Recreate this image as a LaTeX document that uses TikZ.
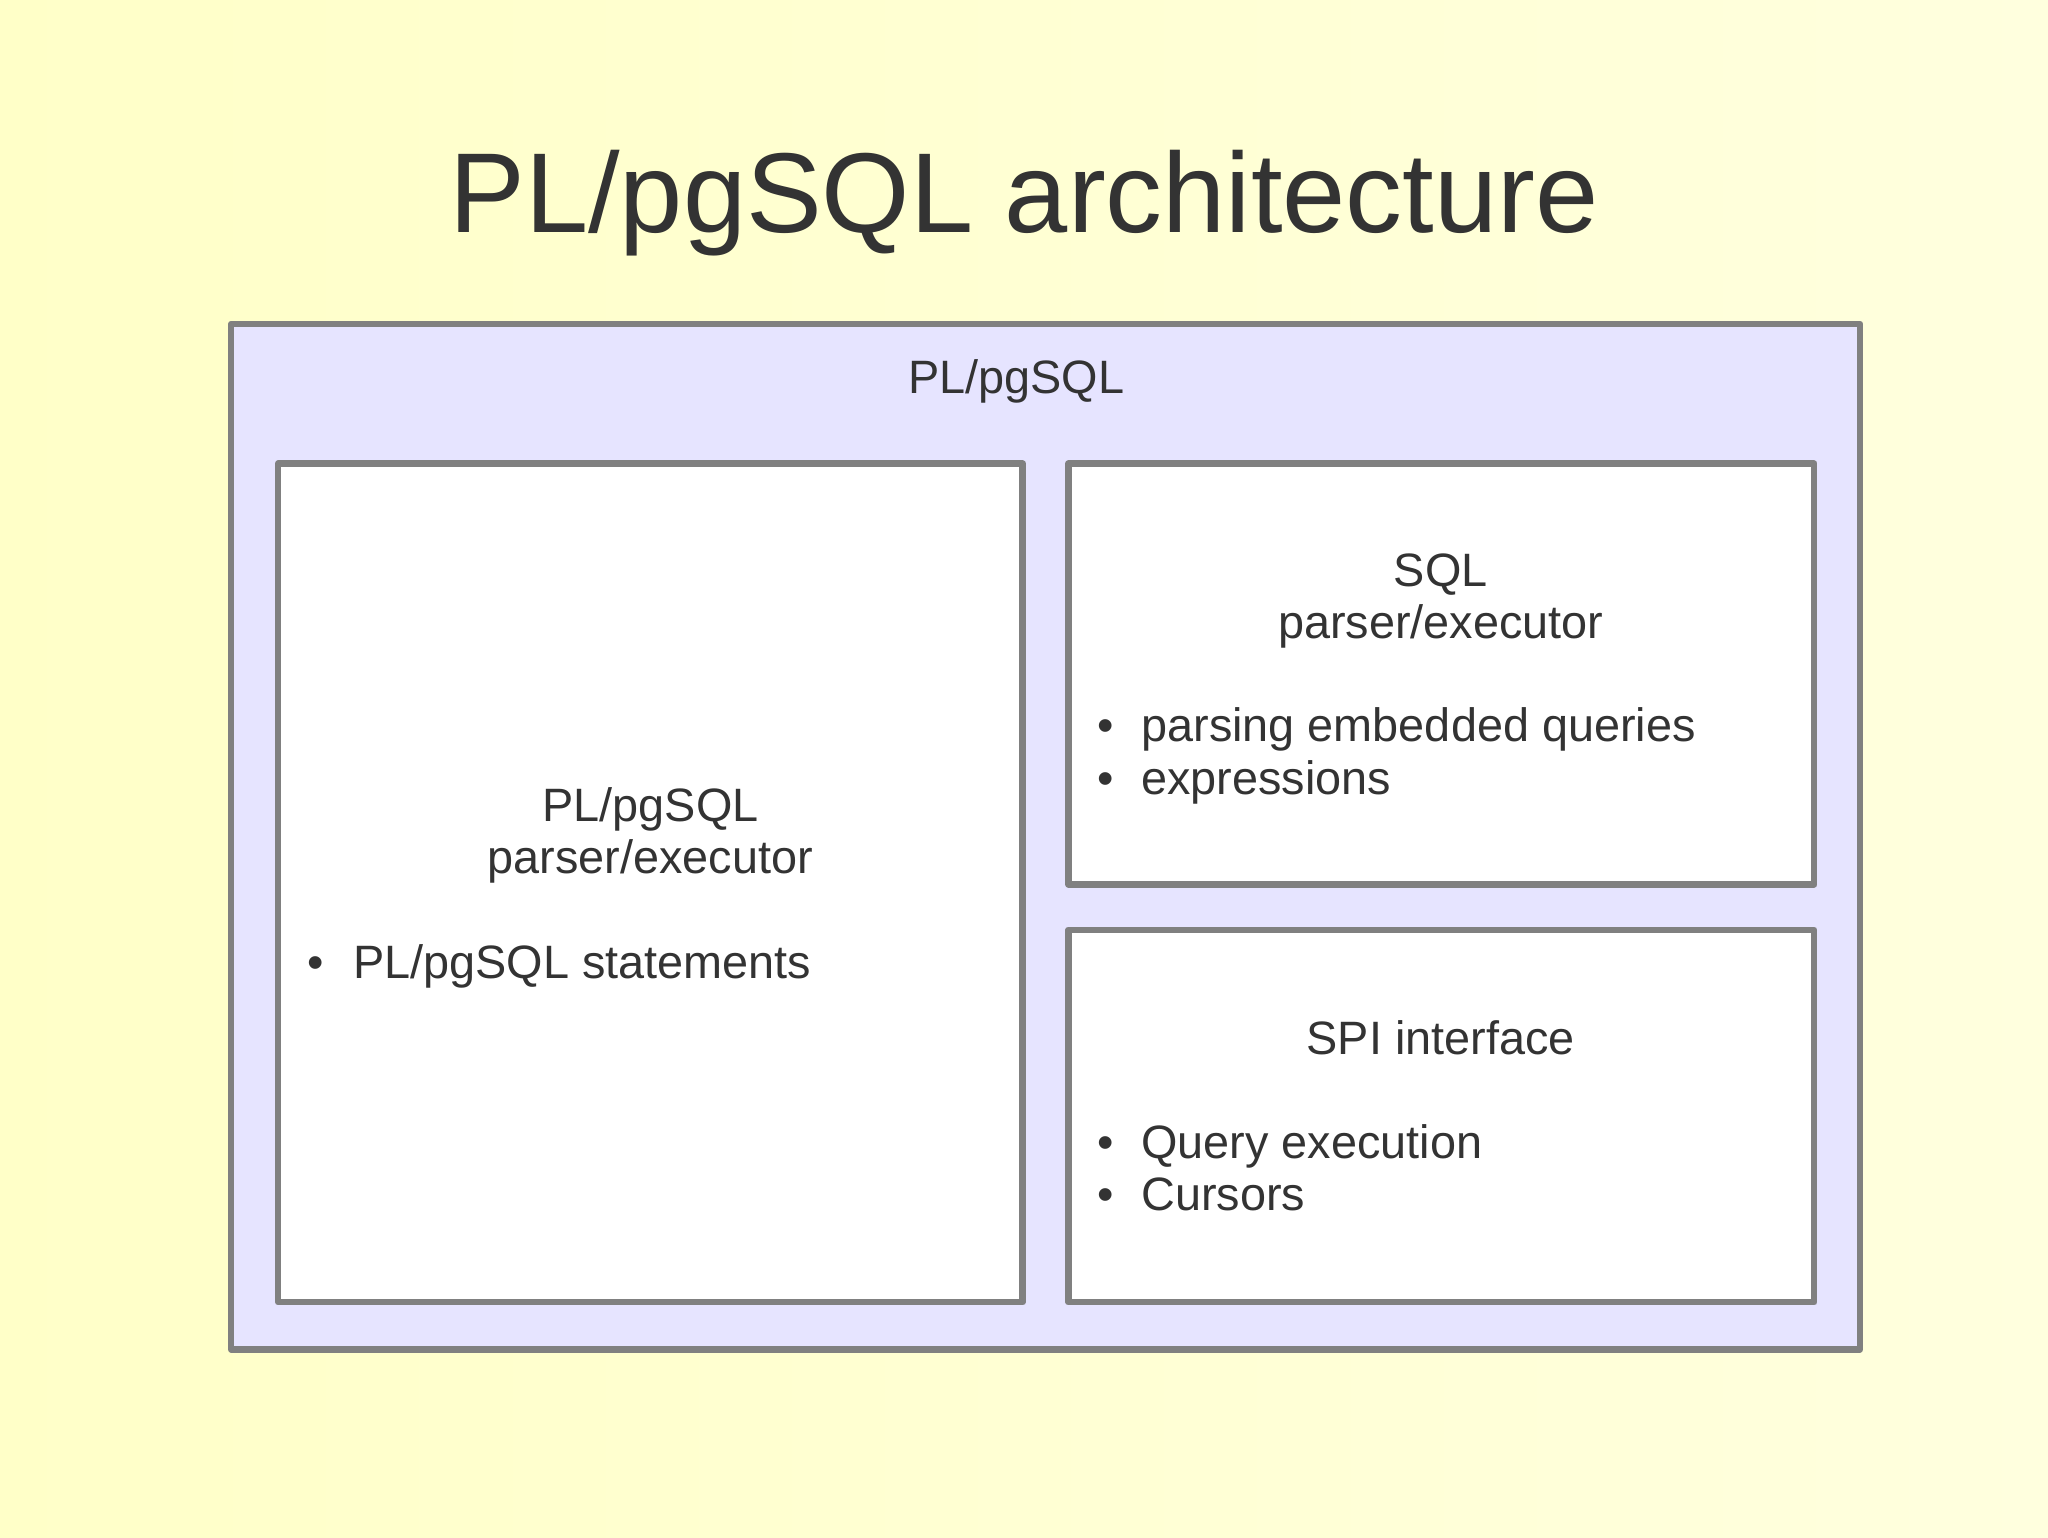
\documentclass[tikz,border=0pt]{standalone}
\usepackage{fontspec}
\setmainfont{Liberation Sans}
\definecolor{bg}{RGB}{255,255,200}
\definecolor{lav}{RGB}{230,228,255}
\definecolor{bord}{RGB}{128,128,128}
\definecolor{txt}{RGB}{51,51,51}
\begin{document}
\begin{tikzpicture}[x=0.02cm,y=-0.02cm,
  box/.style={draw=bord,line width=0.1cm,line join=round},
  t/.style={anchor=base,text=txt,font=\fontsize{20.4}{24}\selectfont,inner sep=0pt},
  tl/.style={t,anchor=base west}]
\useasboundingbox[left color=bg,right color=bg!60!white] (0,0) rectangle (1568,1177);
\node[anchor=base,text=txt,font=\fontsize{49.5}{54}\selectfont,inner sep=0] (title) at (784,178) {PL/pgSQL architecture};
\draw[box,fill=lav] (177,248) rectangle (1424,1033);
\node[t] (outer) at (778,301) {PL/pgSQL};
\draw[box,fill=white] (213,355) rectangle (783,997);
\node[t] (l1) at (498,629) {PL/pgSQL};
\node[t] (l2) at (498,669) {parser/executor};
\node[tl] (l3) at (235,749) {•\hspace{0.45cm}PL/pgSQL statements};
\draw[box,fill=white] (818,355) rectangle (1389,677);
\node[t] (s1) at (1103,449) {SQL};
\node[t] (s2) at (1103,489) {parser/executor};
\node[tl] (s3) at (840,568) {•\hspace{0.42cm}parsing embedded queries};
\node[tl] (s4) at (840,608) {•\hspace{0.42cm}expressions};
\draw[box,fill=white] (818,712) rectangle (1389,997);
\node[t] (p1) at (1103,807) {SPI interface};
\node[tl] (p2) at (840,887) {•\hspace{0.42cm}Query execution};
\node[tl] (p3) at (840,927) {•\hspace{0.42cm}Cursors};
\end{tikzpicture}
\end{document}
